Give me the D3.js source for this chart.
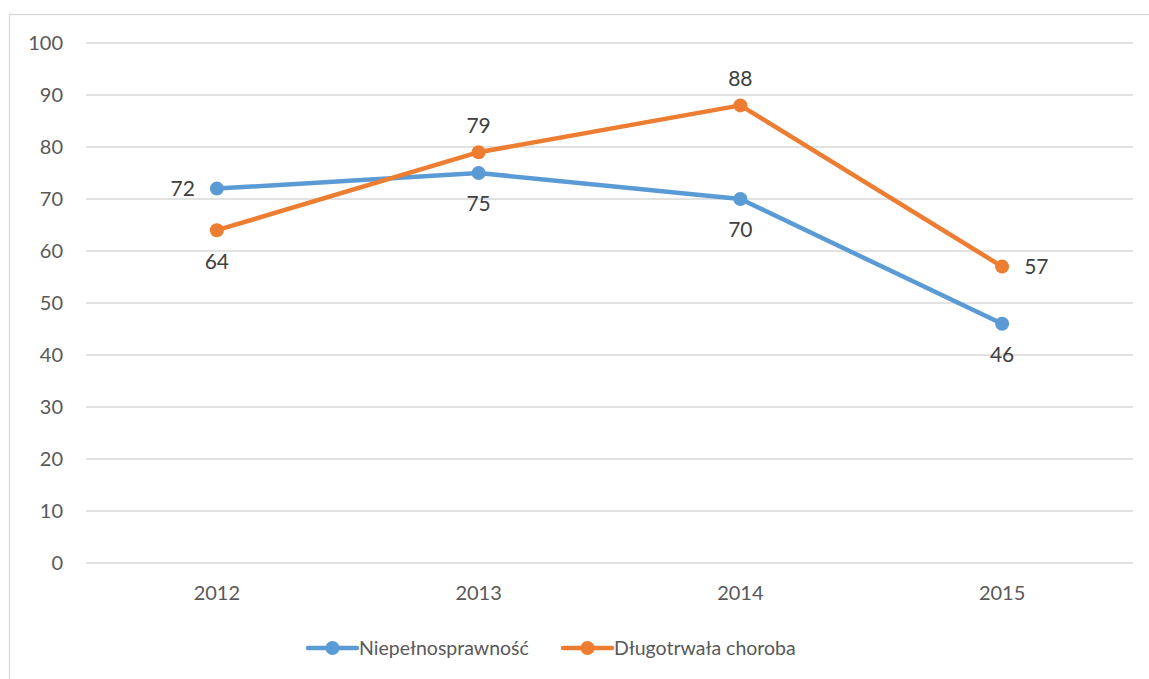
<!DOCTYPE html>
<html>
<head>
<meta charset="utf-8">
<script src="https://cdn.jsdelivr.net/npm/d3@7"></script>
<style>
  body { margin: 0; background: #fff; }
  text { font-family: Lato, "Open Sans", sans-serif; fill: #595959; }
</style>
</head>
<body>
<script>
// chart data
var years = ["2012", "2013", "2014", "2015"];
var disability = [72, 75, 70, 46];
var illness = [64, 79, 88, 57];
var seriesNames = ["Niepełnosprawność", "Długotrwała choroba"];
var yTicks = [0, 10, 20, 30, 40, 50, 60, 70, 80, 90, 100];
// label placement per point: left, below, above, right
var disabilityPos = ["left", "below", "below", "below"];
var illnessPos = ["below", "above", "above", "right"];

(function () {
  var W = 1149, H = 679;
  var svg = d3.select("body").append("svg").attr("width", W).attr("height", H);

  // outer frame
  svg.append("rect")
    .attr("x", 9.5).attr("y", 14.5)
    .attr("width", W).attr("height", H)
    .attr("fill", "none").attr("stroke", "#d9d9d9").attr("stroke-width", 1.3);

  var pLeft = 86, pRight = 1133, pTop = 43, pBottom = 563;

  var x = d3.scaleBand().domain(years).range([pLeft, pRight]);
  var y = d3.scaleLinear().domain([0, 100]).range([pBottom, pTop]);

  // gridlines
  svg.selectAll(".grid").data(yTicks).enter().append("line")
    .attr("x1", pLeft).attr("x2", pRight)
    .attr("y1", function (d) { return y(d); })
    .attr("y2", function (d) { return y(d); })
    .attr("stroke", "#d9d9d9").attr("stroke-width", 1.3);

  // y axis labels
  svg.selectAll(".ylab").data(yTicks).enter().append("text")
    .attr("x", 63).attr("y", function (d) { return y(d); })
    .attr("dy", "0.35em").attr("text-anchor", "end")
    .style("font-size", "20px")
    .text(function (d) { return d; });

  // x axis labels
  svg.selectAll(".xlab").data(years).enter().append("text")
    .attr("x", function (d) { return x(d) + x.bandwidth() / 2; })
    .attr("y", 600)
    .attr("text-anchor", "middle")
    .style("font-size", "20px")
    .text(function (d) { return d; });

  function cx(i) { return x(years[i]) + x.bandwidth() / 2; }

  var line = d3.line()
    .x(function (d, i) { return cx(i); })
    .y(function (d) { return y(d); });

  function drawSeries(values, color, pos) {
    svg.append("path").datum(values)
      .attr("d", line)
      .attr("fill", "none").attr("stroke", color)
      .attr("stroke-width", 4.5).attr("stroke-linejoin", "round");
    svg.selectAll(null).data(values).enter().append("circle")
      .attr("cx", function (d, i) { return cx(i); })
      .attr("cy", function (d) { return y(d); })
      .attr("r", 7).attr("fill", color);
    svg.selectAll(null).data(values).enter().append("text")
      .attr("x", function (d, i) {
        if (pos[i] == "left") return cx(i) - 22;
        if (pos[i] == "right") return cx(i) + 22;
        return cx(i);
      })
      .attr("y", function (d, i) {
        if (pos[i] == "above") return y(d) - 27;
        if (pos[i] == "below") return y(d) + 31;
        return y(d);
      })
      .attr("dy", "0.35em")
      .attr("text-anchor", function (d, i) {
        if (pos[i] == "left") return "end";
        if (pos[i] == "right") return "start";
        return "middle";
      })
      .style("font-size", "21px").style("fill", "#404040")
      .text(function (d) { return d; });
  }

  drawSeries(disability, "#5b9bd5", disabilityPos);
  drawSeries(illness, "#ed7d31", illnessPos);

  // legend
  var legend = [
    { name: seriesNames[0], color: "#5b9bd5", x: 308 },
    { name: seriesNames[1], color: "#ed7d31", x: 563 }
  ];
  var ly = 648;
  legend.forEach(function (l) {
    svg.append("line")
      .attr("x1", l.x).attr("x2", l.x + 49)
      .attr("y1", ly).attr("y2", ly)
      .attr("stroke", l.color).attr("stroke-width", 4.5).attr("stroke-linecap", "round");
    svg.append("circle").attr("cx", l.x + 24.5).attr("cy", ly).attr("r", 7).attr("fill", l.color);
    svg.append("text")
      .attr("x", l.x + 51).attr("y", ly).attr("dy", "0.35em")
      .style("font-size", "19.5px")
      .text(l.name);
  });
})();
</script>
</body>
</html>
